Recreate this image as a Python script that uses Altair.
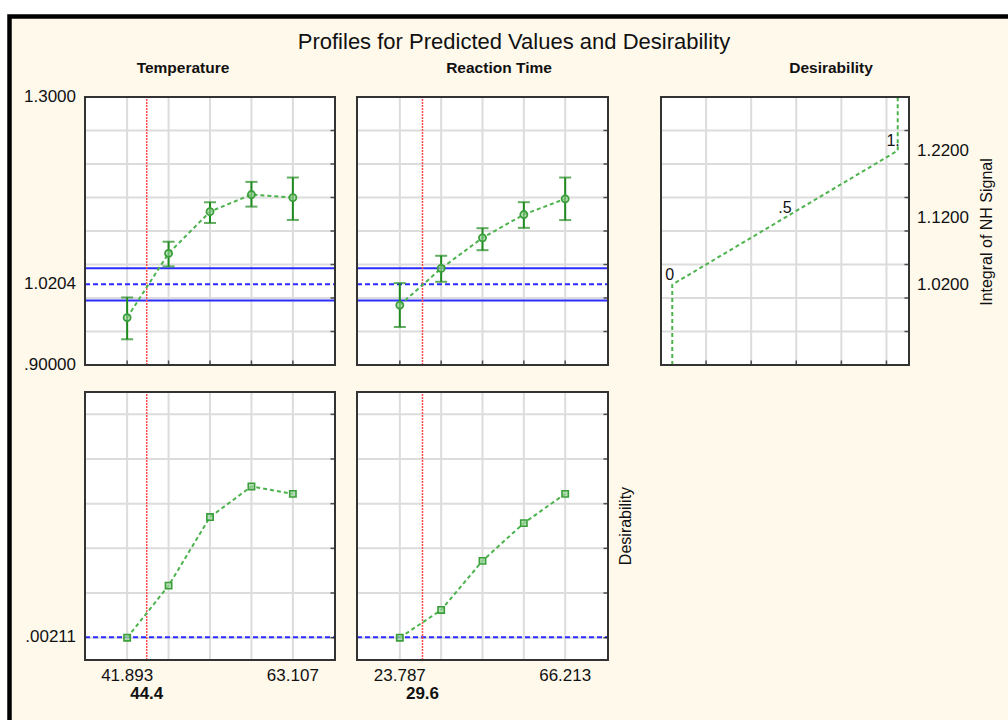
import altair as alt
import pandas as pd

# ------------------------------------------------------------------ data
title_text = "Profiles for Predicted Values and Desirability"
col_titles = ["Temperature", "Reaction Time", "Desirability"]

temp_levels = [41.893, 47.197, 52.5, 57.803, 63.107]
temp_pred = [0.9708, 1.0666, 1.1289, 1.1544, 1.1499]
temp_lo = [0.9384, 1.0471, 1.1120, 1.1364, 1.1165]
temp_hi = [1.0008, 1.0840, 1.1429, 1.1733, 1.1798]
temp_desir = [0.0, 0.233, 0.540, 0.677, 0.644]
temp_current = 44.4
temp_tick_values = [41.893, 63.107]
temp_tick_labels = ["41.893", "63.107"]

rt_levels = [23.787, 34.393, 45.0, 55.607, 66.213]
rt_pred = [0.9894, 1.0441, 1.0898, 1.1246, 1.1480]
rt_lo = [0.9567, 1.0242, 1.0714, 1.1047, 1.1163]
rt_hi = [1.0222, 1.0630, 1.1042, 1.1430, 1.1798]
rt_desir = [0.0, 0.124, 0.344, 0.513, 0.644]
rt_current = 29.6
rt_tick_values = [23.787, 66.213]
rt_tick_labels = ["23.787", "66.213"]

resp_current = 1.0204
resp_ci = [0.9963, 1.0445]
resp_tick_values = [0.90, 1.0204, 1.30]
resp_tick_labels = [".90000", "1.0204", "1.3000"]
resp_grid = [0.95, 1.00, 1.05, 1.10, 1.15, 1.20, 1.25]

desir_current = 0.00211
desir_tick_values = [0.00211]
desir_tick_labels = [".00211"]
desir_grid = [0.0, 0.2, 0.4, 0.6, 0.8, 1.0]

dfun_desir = [0.0, 0.0, 0.5, 1.0, 1.0]
dfun_resp = [0.90, 1.02, 1.12, 1.22, 1.30]
dfun_point_labels = ["", "0", ".5", "1.", ""]
dfun_grid = [0.15, 0.35, 0.55, 0.75, 0.95]
dfun_tick_values = [1.02, 1.12, 1.22]
dfun_tick_labels = ["1.0200", "1.1200", "1.2200"]
resp_title = "Integral of NH Signal"
desir_title = "Desirability"

# ------------------------------------------------------------------ layout / style
FONT = "Liberation Sans"
CREAM = "#FFF9EC"
GRID = "#DCDCDC"
BORDER = "#333333"
DGREEN = "#1F8A1F"
LGREEN = "#4DB34D"
BLUE = "#2B2BFF"
RED = "#FF4A4A"
TXT = "#111111"

TEMP_DOM = [36.5, 68.5]
RT_DOM = [12.8, 77.2]
DES_DOM = [-0.05, 1.05]
RESP_DOM = [0.90, 1.30]
D_DOM = [-0.10, 1.10]

X_TEMP = [85, 335]
X_RT = [357, 608]
X_DES = [661, 909]
Y_TOP = [365, 97]
Y_BOT = [660, 392]


def make_panel(xdom, xrng, ydom, yrng, xgrid, ygrid, bottom_ticks, content):
    xs = alt.Scale(domain=xdom, range=xrng, nice=False, zero=False)
    ys = alt.Scale(domain=ydom, range=yrng, nice=False, zero=False)

    def X(f):
        return alt.X(f, type="quantitative", scale=xs, axis=None)

    def Y(f):
        return alt.Y(f, type="quantitative", scale=ys, axis=None)

    box = pd.DataFrame({"x0": [xdom[0]], "x1": [xdom[1]], "y0": [ydom[0]], "y1": [ydom[1]]})
    vg = pd.DataFrame({"x": xgrid, "y0": ydom[0], "y1": ydom[1]})
    hg = pd.DataFrame({"y": ygrid, "x0": xdom[0], "x1": xdom[1]})
    rt = pd.DataFrame({"y": ygrid, "x": xdom[1]})

    layers = [
        alt.Chart(box).mark_rect(fill="white").encode(x=X("x0"), x2="x1", y=Y("y0"), y2="y1"),
        alt.Chart(vg).mark_rule(color=GRID, strokeWidth=2).encode(x=X("x"), y=Y("y0"), y2="y1"),
        alt.Chart(hg).mark_rule(color=GRID, strokeWidth=2).encode(y=Y("y"), x=X("x0"), x2="x1"),
    ]
    layers += content(X, Y)
    layers.append(
        alt.Chart(rt).mark_tick(orient="horizontal", size=5, thickness=1.5, color="#111", xOffset=-2)
        .encode(x=X("x"), y=Y("y"))
    )
    if bottom_ticks:
        bt = pd.DataFrame({"x": xgrid, "y": ydom[0]})
        layers.append(
            alt.Chart(bt).mark_tick(orient="vertical", size=5, thickness=1.5, color="#111", yOffset=-2)
            .encode(x=X("x"), y=Y("y"))
        )
    layers.append(
        alt.Chart(box).mark_rect(fill="white", fillOpacity=0, stroke=BORDER, strokeWidth=2)
        .encode(x=X("x0"), x2="x1", y=Y("y0"), y2="y1")
    )
    return alt.layer(*layers)


def response_content(levels, pred, lo, hi, current, xdom, ydom, left_labels):
    def content(X, Y):
        prof = pd.DataFrame({"x": levels, "y": pred, "lo": lo, "hi": hi})
        ci = pd.DataFrame({"y": resp_ci, "x0": xdom[0], "x1": xdom[1]})
        cur = pd.DataFrame({"y": [resp_current], "x0": xdom[0], "x1": xdom[1]})
        red = pd.DataFrame({"x": [current], "y0": ydom[0], "y1": ydom[1]})
        out = [
            alt.Chart(ci).mark_rule(color=BLUE, strokeWidth=2).encode(y=Y("y"), x=X("x0"), x2="x1"),
            alt.Chart(cur).mark_rule(color=BLUE, strokeWidth=2, strokeDash=[5, 3])
            .encode(y=Y("y"), x=X("x0"), x2="x1"),
            alt.Chart(red).mark_rule(color=RED, strokeWidth=1.5, strokeDash=[2, 1])
            .encode(x=X("x"), y=Y("y0"), y2="y1"),
            alt.Chart(prof).mark_line(color=LGREEN, strokeWidth=2, strokeDash=[4, 3])
            .encode(x=X("x"), y=Y("y")),
            alt.Chart(prof).mark_rule(color=DGREEN, strokeWidth=2).encode(x=X("x"), y=Y("lo"), y2="hi"),
            alt.Chart(prof).mark_tick(orient="horizontal", size=12, thickness=2, color=DGREEN)
            .encode(x=X("x"), y=Y("lo")),
            alt.Chart(prof).mark_tick(orient="horizontal", size=12, thickness=2, color=DGREEN)
            .encode(x=X("x"), y=Y("hi")),
            alt.Chart(prof).mark_point(shape="circle", size=50, strokeWidth=1.8, stroke="#3A9E3A",
                                       fill="#9BD49B", fillOpacity=0.6)
            .encode(x=X("x"), y=Y("y")),
        ]
        if left_labels:
            lab = pd.DataFrame({"y": resp_tick_values, "x": xdom[0], "t": resp_tick_labels})
            out.append(
                alt.Chart(lab).mark_text(font=FONT, fontSize=17, align="right", baseline="middle",
                                         dx=-9, color=TXT)
                .encode(x=X("x"), y=Y("y"), text="t")
            )
        return out
    return content


def desir_content(levels, desir, current, xdom, ydom, left_labels, tick_values, tick_labels):
    def content(X, Y):
        prof = pd.DataFrame({"x": levels, "y": desir})
        cur = pd.DataFrame({"y": [desir_current], "x0": xdom[0], "x1": xdom[1]})
        red = pd.DataFrame({"x": [current], "y0": ydom[0], "y1": ydom[1]})
        xl = pd.DataFrame({"x": tick_values, "y": ydom[0], "t": tick_labels})
        cl = pd.DataFrame({"x": [current], "y": ydom[0], "t": [f"{current:g}"]})
        out = [
            alt.Chart(cur).mark_rule(color=BLUE, strokeWidth=2, strokeDash=[5, 3])
            .encode(y=Y("y"), x=X("x0"), x2="x1"),
            alt.Chart(red).mark_rule(color=RED, strokeWidth=1.5, strokeDash=[2, 1])
            .encode(x=X("x"), y=Y("y0"), y2="y1"),
            alt.Chart(prof).mark_line(color=LGREEN, strokeWidth=2, strokeDash=[4, 3])
            .encode(x=X("x"), y=Y("y")),
            alt.Chart(prof).mark_point(shape="square", size=40, strokeWidth=1.6, stroke="#3A9E3A",
                                       fill="#9BD49B", fillOpacity=0.7)
            .encode(x=X("x"), y=Y("y")),
            alt.Chart(xl).mark_text(font=FONT, fontSize=17, align="center", baseline="middle",
                                    dy=16, color=TXT)
            .encode(x=X("x"), y=Y("y"), text="t"),
            alt.Chart(cl).mark_text(font=FONT, fontSize=17, fontWeight="bold", align="center",
                                    baseline="middle", dy=34, color=TXT)
            .encode(x=X("x"), y=Y("y"), text="t"),
        ]
        if left_labels:
            lab = pd.DataFrame({"y": desir_tick_values, "x": xdom[0], "t": desir_tick_labels})
            out.append(
                alt.Chart(lab).mark_text(font=FONT, fontSize=17, align="right", baseline="middle",
                                         dx=-9, color=TXT)
                .encode(x=X("x"), y=Y("y"), text="t")
            )
        return out
    return content


def dfun_content(X, Y):
    prof = pd.DataFrame({"x": dfun_desir, "y": dfun_resp, "o": list(range(len(dfun_desir))),
                         "t": dfun_point_labels})
    lab = pd.DataFrame({"y": dfun_tick_values, "x": DES_DOM[1], "t": dfun_tick_labels})
    lab_side = prof[prof["t"].isin(["0", "1."])]
    lab_mid = prof[prof["t"] == ".5"]
    return [
        alt.Chart(prof).mark_line(color=LGREEN, strokeWidth=2, strokeDash=[4, 3])
        .encode(x=X("x"), y=Y("y"), order="o:Q"),
        alt.Chart(lab_side).mark_text(font=FONT, fontSize=16, align="right", baseline="middle",
                                      dx=2, dy=-10, color=TXT)
        .encode(x=X("x"), y=Y("y"), text="t"),
        alt.Chart(lab_mid).mark_text(font=FONT, fontSize=16, align="center", baseline="middle",
                                     dy=-10, color=TXT)
        .encode(x=X("x"), y=Y("y"), text="t"),
        alt.Chart(lab).mark_text(font=FONT, fontSize=17, align="left", baseline="middle",
                                 dx=8, color=TXT)
        .encode(x=X("x"), y=Y("y"), text="t"),
    ]


p_temp_top = make_panel(TEMP_DOM, X_TEMP, RESP_DOM, Y_TOP, temp_levels, resp_grid, True,
                        response_content(temp_levels, temp_pred, temp_lo, temp_hi, temp_current,
                                         TEMP_DOM, RESP_DOM, True))
p_rt_top = make_panel(RT_DOM, X_RT, RESP_DOM, Y_TOP, rt_levels, resp_grid, True,
                      response_content(rt_levels, rt_pred, rt_lo, rt_hi, rt_current,
                                       RT_DOM, RESP_DOM, False))
p_dfun = make_panel(DES_DOM, X_DES, RESP_DOM, Y_TOP, dfun_grid, resp_grid, True, dfun_content)
p_temp_bot = make_panel(TEMP_DOM, X_TEMP, D_DOM, Y_BOT, temp_levels, desir_grid, False,
                        desir_content(temp_levels, temp_desir, temp_current, TEMP_DOM, D_DOM, True,
                                      temp_tick_values, temp_tick_labels))
p_rt_bot = make_panel(RT_DOM, X_RT, D_DOM, Y_BOT, rt_levels, desir_grid, False,
                      desir_content(rt_levels, rt_desir, rt_current, RT_DOM, D_DOM, False,
                                    rt_tick_values, rt_tick_labels))

# frame, titles
frame = alt.Chart(pd.DataFrame({"a": [0]})).mark_rect(fill=CREAM, stroke="black", strokeWidth=4.5).encode(
    x=alt.value(9.5), y=alt.value(16.5), x2=alt.value(1040), y2=alt.value(760))


def label(text, x, y, size, weight="normal", angle=0):
    return alt.Chart(pd.DataFrame({"t": [text]})).mark_text(
        font=FONT, fontSize=size, fontWeight=weight, angle=angle, align="center",
        baseline="middle", color=TXT).encode(x=alt.value(x), y=alt.value(y), text="t")


titles = [
    label(title_text, 514, 42, 22),
    label(col_titles[0], 183, 68, 15.5, "bold"),
    label(col_titles[1], 499, 68, 15.5, "bold"),
    label(col_titles[2], 831, 68, 15.5, "bold"),
    label(resp_title, 987, 232, 16, angle=270),
    label(desir_title, 626, 526, 16, angle=270),
]

chart = alt.layer(frame, *titles, p_temp_top, p_rt_top, p_dfun, p_temp_bot, p_rt_bot).resolve_scale(
    x="independent", y="independent"
).properties(
    width=1008, height=720, padding=0, background="white",
    autosize=alt.AutoSizeParams(type="none"),
).configure_view(strokeOpacity=0)

chart.save("out.html", embed_options={"renderer": "svg", "actions": False})
